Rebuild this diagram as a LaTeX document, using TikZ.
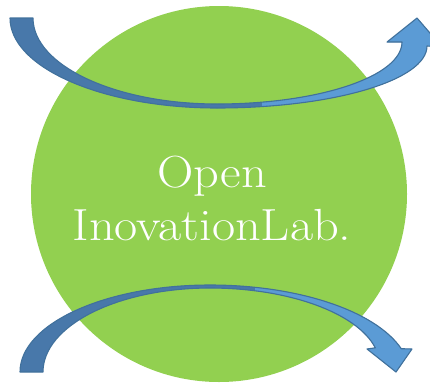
\documentclass[tikz,border=0pt]{standalone}
\usepackage{graphicx}
\definecolor{leaf}{HTML}{92D050}
\definecolor{arrdark}{HTML}{4878AA}
\definecolor{arrlight}{HTML}{5B9BD5}
\definecolor{arrline}{HTML}{41719C}
\newcommand\toparrowpath{(10,18) arc[start angle=180, end angle=90, x radius=207, y radius=90]
  arc[start angle=90, end angle=0, x radius=210, y radius=62]
  -- (442,47) -- (417,18) -- (387,42) -- (402,42)
  arc[start angle=0, end angle=90, x radius=185, y radius=62]
  arc[start angle=90, end angle=180, x radius=184, y radius=86] -- cycle}
\newcommand\botarrowpath{(20,372) arc[start angle=180, end angle=270, x radius=190, y radius=87]
  arc[start angle=270, end angle=343, x radius=200, y radius=90]
  -- (412,349) -- (396,372) -- (367,349) -- (375.3,347.8)
  arc[start angle=346.5, end angle=270, x radius=170, y radius=78]
  arc[start angle=270, end angle=180, x radius=167, y radius=84] -- cycle}
\newcommand\widetext[1]{\scalebox{1.12}[1]{#1}}
\begin{document}
\begin{tikzpicture}[x=1pt, y=-1pt,
  label/.style={text=white, font=\fontsize{45}{53}\selectfont, inner sep=0pt, anchor=base},
  outline/.style={draw=arrline, line width=1.1pt, line join=round}]
\useasboundingbox (0,0) rectangle (430,383);
\fill[leaf] (219,194) circle[radius=188];
\node[label] (open) at (212,187) {\widetext{Open}};
\node[label] (lab) at (212,240) {\widetext{InovationLab.}};
% top arrow
\fill[arrdark] \toparrowpath;
\begin{scope}
  \clip (262,0) rectangle (460,383);
  \fill[arrlight] \toparrowpath;
\end{scope}
\draw[outline] \toparrowpath;
% bottom arrow
\fill[arrdark] \botarrowpath;
\begin{scope}
  \clip (255,0) rectangle (460,383);
  \fill[arrlight] \botarrowpath;
\end{scope}
\draw[outline] \botarrowpath;
\end{tikzpicture}
\end{document}
